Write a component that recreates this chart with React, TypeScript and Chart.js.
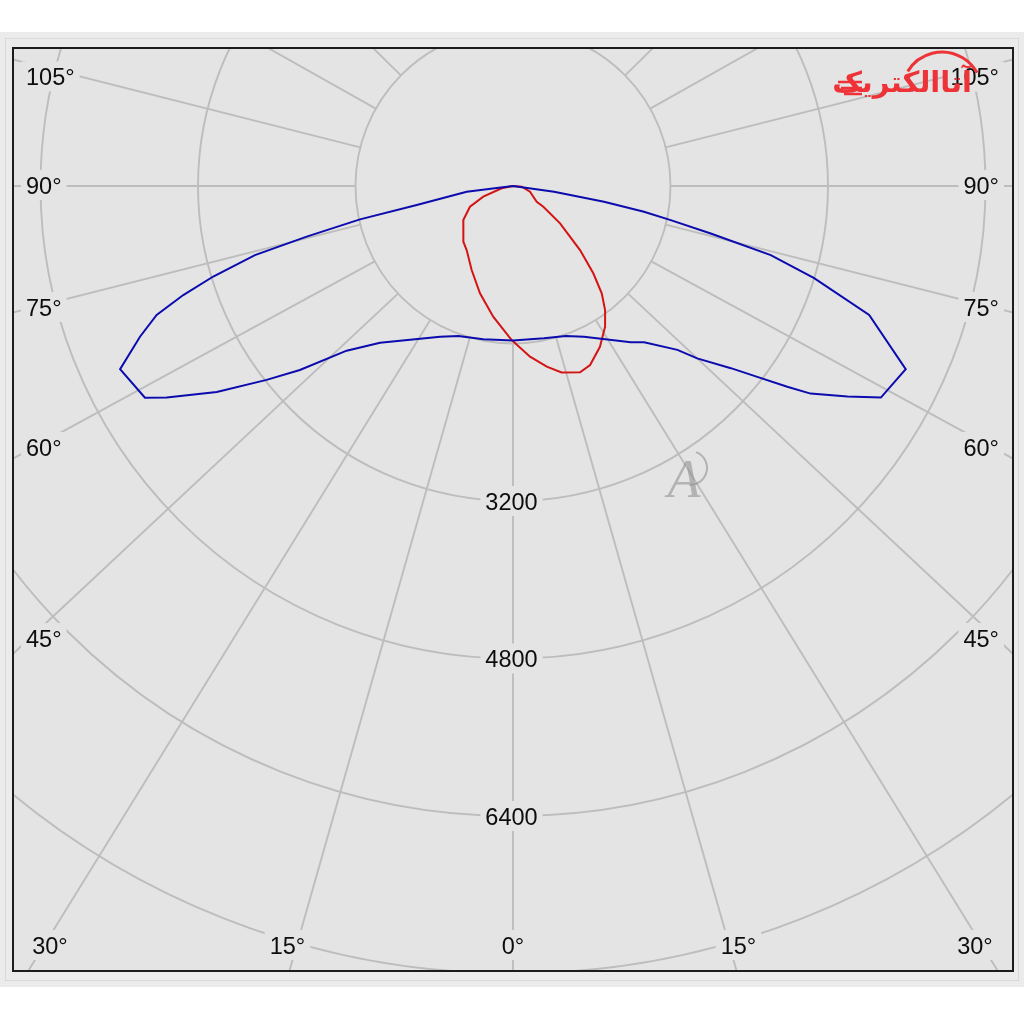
import React, { useEffect, useRef } from "react";
import { Chart, registerables } from "chart.js";

Chart.register(...registerables);

// ---- grid definition (candela rings and ray angles, degrees from nadir) ----
const ringValues = [1600, 3200, 4800, 6400, 8000];
const ringLabelValues = [3200, 4800, 6400];
const rayAngles = [0, 15.9, 31.7, 46.9, 61.4, 75.8, 90, 104.2, 119.4, 134.6];
const sideAngleLabels = ["105°", "90°", "75°", "60°", "45°"];
const bottomAngleLabels = ["30°", "15°", "0°", "15°", "30°"];

// ---- blue curve (C0-C180) : angle (deg) / intensity (cd) ----
const blueAngles = [
  -90, -83.0, -78.8, -77.7, -76.2, -75.0, -73.2, -71.7, -70.1, -68.0, -65.0,
  -60.1, -58.6, -55.2, -51.8, -49.2, -45.3, -40.3, -25.8, -20.0, -11.0, 0,
  11.5, 19.4, 25.2, 37.0, 40.0, 45.1, 46.9, 50.1, 52.0, 53.8, 55.1, 57.8,
  60.1, 65.0, 70.1, 73.0, 75.0, 76.5, 77.8, 78.9, 80.2, 82.1, 90,
];
const blueValues = [
  0, 474, 997, 1591, 2158, 2714, 3181, 3528, 3850, 4087, 4404,
  4313, 4122, 3665, 3185, 2860, 2378, 2088, 1701, 1622, 1587, 1570,
  1579, 1615, 1693, 1988, 2072, 2358, 2563, 2885, 3149, 3453, 3686, 4015,
  4311, 4402, 3848, 3199, 2711, 2066, 1639, 1356, 938, 421, 0,
];

// ---- red curve (C90-C270) : angle (deg) / intensity (cd) ----
const redAngles = [
  -90, -78.5, -70.2, -64.3, -55.6, -41.7, -35.9, -26.2, -17.1, -8.6, -0.5,
  5.7, 10.6, 14.6, 19.8, 23.3, 28.4, 33.2, 36.6, 39.6, 42.6, 46.3, 51.6,
  55.7, 56.5, 71.5, 85.4, 90,
];
const redValues = [
  0, 117, 321, 485, 612, 758, 803, 951, 1141, 1343, 1565,
  1743, 1867, 1957, 2012, 1980, 1857, 1708, 1569, 1414, 1205, 942, 610,
  373, 289, 182, 89, 0,
];

const toXY = (angles: number[], values: number[]) =>
  angles.map((a, i) => {
    const t = (a * Math.PI) / 180;
    return { x: values[i] * Math.sin(t), y: -values[i] * Math.cos(t) };
  });

const PLOT_BG = "#e4e4e4";
const GRID = "#bdbdbd";
const FONT = '23.5px "Liberation Sans", Arial, sans-serif';

function drawLabel(
  ctx: CanvasRenderingContext2D,
  text: string,
  x: number,
  y: number,
  align: "left" | "right" | "center"
) {
  ctx.font = FONT;
  const w = ctx.measureText(text).width;
  let x0 = x;
  if (align === "center") x0 = x - w / 2;
  if (align === "right") x0 = x - w;
  ctx.fillStyle = PLOT_BG;
  ctx.fillRect(x0 - 5, y - 15, w + 10, 30);
  ctx.fillStyle = "#0d0d0d";
  ctx.textAlign = "left";
  ctx.textBaseline = "alphabetic";
  ctx.fillText(text, x0, y + 8.5);
}

const polarGrid = {
  id: "polarGrid",
  beforeDraw(chart: any) {
    const { ctx, chartArea: a, width, height } = chart;
    ctx.save();
    ctx.fillStyle = "#ffffff";
    ctx.fillRect(0, 0, width, height);
    ctx.fillStyle = "#ebebeb";
    ctx.fillRect(0, 32, width, 955);
    ctx.strokeStyle = "#d8d8d8";
    ctx.lineWidth = 1;
    ctx.strokeRect(5.5, 38.5, width - 11, 942);
    ctx.fillStyle = PLOT_BG;
    ctx.fillRect(a.left, a.top, a.right - a.left, a.bottom - a.top);
    ctx.restore();
  },
  beforeDatasetsDraw(chart: any) {
    const { ctx, chartArea: a } = chart;
    const xs = chart.scales.x;
    const ys = chart.scales.y;
    const cx = xs.getPixelForValue(0);
    const cy = ys.getPixelForValue(0);
    const pr = (v: number) => xs.getPixelForValue(v) - cx;
    ctx.save();
    ctx.beginPath();
    ctx.rect(a.left, a.top, a.right - a.left, a.bottom - a.top);
    ctx.clip();
    ctx.strokeStyle = GRID;
    ctx.lineWidth = 1.9;
    ringValues.forEach((v) => {
      ctx.beginPath();
      ctx.arc(cx, cy, pr(v), 0, Math.PI * 2);
      ctx.stroke();
    });
    const r0 = pr(ringValues[0]);
    const r1 = pr(20000);
    rayAngles.forEach((ang) => {
      const signs = ang === 0 ? [1] : [-1, 1];
      signs.forEach((s) => {
        const t = (s * ang * Math.PI) / 180;
        ctx.beginPath();
        ctx.moveTo(cx + r0 * Math.sin(t), cy + r0 * Math.cos(t));
        ctx.lineTo(cx + r1 * Math.sin(t), cy + r1 * Math.cos(t));
        ctx.stroke();
      });
    });

    // ring value labels on the nadir ray
    ringLabelValues.forEach((v) => {
      drawLabel(ctx, String(v), cx - 1.5, cy + pr(v), "center");
    });

    // side angle labels
    const sideY = [76.5, 185, 307, 447, 638];
    sideAngleLabels.forEach((t, i) => {
      drawLabel(ctx, t, a.left + 13, sideY[i], "left");
      drawLabel(ctx, t, a.right - 14, sideY[i], "right");
    });
    // bottom angle labels
    const bottomX = [50, 287.5, 513, 738.5, 975];
    bottomAngleLabels.forEach((t, i) => {
      drawLabel(ctx, t, bottomX[i], a.bottom - 26, "center");
    });
    ctx.restore();
  },
  afterDraw(chart: any) {
    const { ctx, chartArea: a } = chart;
    ctx.save();
    // watermark "A"
    ctx.globalAlpha = 0.55;
    ctx.fillStyle = "#8a8a8a";
    ctx.font = 'italic 54px "Liberation Serif", serif';
    ctx.textAlign = "center";
    ctx.fillText("A", 684, 497);
    ctx.strokeStyle = "#8a8a8a";
    ctx.lineWidth = 2;
    ctx.beginPath();
    ctx.arc(690, 468, 17, -1.2, 1.6);
    ctx.stroke();
    ctx.globalAlpha = 1;

    // red brand logo
    ctx.fillStyle = "#ee3338";
    ctx.font = 'bold 29px "DejaVu Sans", sans-serif';
    ctx.textAlign = "right";
    ctx.direction = "rtl";
    ctx.fillText("آتاالکتریک", 972, 92);
    ctx.direction = "ltr";
    ctx.strokeStyle = "#ee3338";
    ctx.lineWidth = 3;
    ctx.beginPath();
    ctx.arc(942, 92, 40, -2.6, -0.5);
    ctx.stroke();
    ctx.lineWidth = 2.5;
    [82, 88, 94].forEach((yy, k) => {
      ctx.beginPath();
      ctx.moveTo(838 + k * 3, yy);
      ctx.lineTo(862, yy);
      ctx.stroke();
    });

    // frame
    ctx.strokeStyle = "#1c1c1c";
    ctx.lineWidth = 2;
    ctx.strokeRect(a.left, a.top, a.right - a.left, a.bottom - a.top);
    ctx.restore();
  },
};

export default function App() {
  const ref = useRef<HTMLCanvasElement | null>(null);
  useEffect(() => {
    if (!ref.current) return;
    const cdPerPx = 1600 / 157.5;
    const chart = new Chart(ref.current, {
      type: "scatter",
      data: {
        datasets: [
          {
            label: "C0-C180",
            data: toXY(blueAngles, blueValues),
            showLine: true,
            borderColor: "#0b0bae",
            borderWidth: 2,
            pointRadius: 0,
            tension: 0,
            fill: false,
          },
          {
            label: "C90-C270",
            data: toXY(redAngles, redValues),
            showLine: true,
            borderColor: "#d41414",
            borderWidth: 2,
            pointRadius: 0,
            tension: 0,
            fill: false,
          },
        ],
      },
      options: {
        responsive: false,
        animation: false,
        maintainAspectRatio: false,
        layout: { padding: { left: 13, top: 48, right: 11, bottom: 53 } },
        plugins: {
          legend: { display: false },
          tooltip: { enabled: false },
        },
        scales: {
          x: {
            type: "linear",
            display: false,
            min: -500 * cdPerPx,
            max: 500 * cdPerPx,
          },
          y: {
            type: "linear",
            display: false,
            min: -785 * cdPerPx,
            max: 138 * cdPerPx,
          },
        },
      },
      plugins: [polarGrid],
    });
    return () => chart.destroy();
  }, []);
  return (
    <div style={{ position: "absolute", left: 0, top: 0, width: 1024, height: 1024, background: "#fff" }}>
      <canvas ref={ref} width={1024} height={1024} style={{ width: 1024, height: 1024, display: "block" }} />
    </div>
  );
}
